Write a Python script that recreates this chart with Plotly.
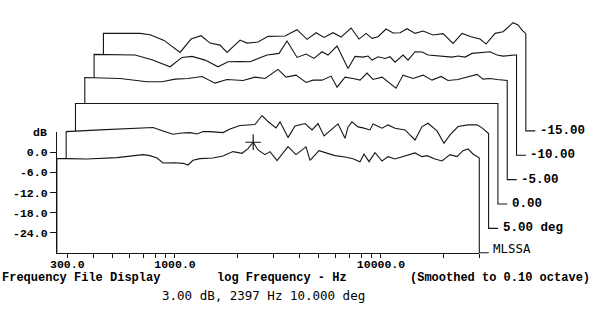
import numpy as np
import plotly.graph_objects as go

# Relative responses (dB) for each horizontal angle, normalized to on-axis
f_10 = [267, 299, 374, 523, 591, 699, 756, 818, 874, 1000, 1094, 1156, 1223, 1322, 1529,
        1710, 1912, 2115, 2262, 2397, 2529, 2735, 2892, 3127, 3537, 3867, 4324, 4522, 5000,
        5469, 5980, 6688, 7314, 7909, 8270, 8744, 9352, 10113, 10815, 11695, 12791, 13830,
        14622, 15812, 16721, 18285, 19775, 21627, 23385, 25007, 26443, 27966, 29242, 30000]
db_10 = [-1.9, -1.9, -2.0, -1.6, -1.3, -0.7, -1.0, -1.7, -3.2, -3.1, -3.3, -3.8, -2.4, -1.9,
         -1.7, -1.1, 0.2, -0.3, 1.1, 3.0, 0.7, -0.7, 0.2, -2.5, 1.7, -0.7, 1.6, -2.4, 0.5,
         -0.3, -1.0, -1.4, -1.9, -2.8, -0.5, -2.8, -0.1, -2.6, -1.3, -2.0, -1.3, -0.8, -0.2,
         -1.3, -1.0, -2.0, -2.6, -0.7, -1.3, 0.5, 1.0, -0.5, -1.4, -1.7]

f_5 = [267, 390, 533, 630, 705, 788, 881, 975, 1066, 1153, 1233, 1333, 1541, 1667, 1864,
       2204, 2384, 2549, 2787, 2915, 3187, 3446, 3854, 4169, 4457, 4767, 5271, 5574, 6028,
       6234, 6519, 6970, 7371, 7971, 8241, 9116, 9746, 10539, 11786, 13183, 14254, 15240,
       16852, 18226, 19491, 21313, 23836, 26359, 27870, 29473, 30000]
db_5 = [-1.1, -0.6, -0.3, -0.2, 0.1, -0.9, -1.9, -1.5, -1.4, -1.8, -1.1, -1.1, -1.4, -0.3,
        0.7, 1.0, 3.7, 1.9, 0.0, 1.8, -2.9, 0.6, 1.3, -0.6, 1.3, -2.4, -0.1, 1.2, -3.1, 0.3,
        1.8, 0.3, 0.0, -0.6, 1.2, -0.1, 0.9, -0.1, -0.6, -3.6, 0.4, 1.4, -0.9, -4.6, -2.1,
        0.4, 0.9, 0.9, 0.0, -1.5, -1.7]

f_0 = [267, 30000]
db_0 = [0.0, 0.0]

f_m5 = [267, 396, 458, 535, 633, 732, 847, 990, 1145, 1309, 1565, 1790, 2002, 2315, 2532,
        2831, 3166, 3423, 3786, 4187, 4477, 4896, 5354, 5790, 6261, 6696, 7404, 7916, 8658,
        9363, 10469, 11708, 12948, 14318, 15480, 17309, 19362, 21412, 22896, 24756, 26772,
        28629, 30000]
db_m5 = [0.5, 0.2, -0.3, -0.8, -0.8, 0.0, 0.2, 0.8, -1.2, -0.1, -0.4, 0.6, 0.2, 2.9, 0.6,
         1.2, -1.0, -0.3, -0.3, 0.9, -2.4, 0.6, 0.2, -0.3, 1.8, -0.1, 0.6, -0.8, -2.7, 1.2,
         0.2, 1.2, -0.3, 0.8, -0.4, -0.1, 0.7, 1.4, 0.0, 0.2, -0.1, -0.3, -0.4]

f_m10 = [267, 422, 510, 624, 713, 798, 923, 1067, 1193, 1365, 1526, 1845, 2110, 2307, 2581,
         2854, 3121, 3412, 3648, 4035, 4562, 4934, 5395, 5705, 5968, 6381, 6900, 7297, 7717,
         8437, 8923, 9649, 10433, 11158, 13049, 14592, 15603, 16871, 18246, 20639, 22317,
         24128, 25799, 29506, 30000]
db_m10 = [0.1, -0.1, -1.5, -3.6, -0.8, -0.5, -1.6, -3.6, -2.1, -2.0, -2.1, -0.1, 0.4, 4.1,
          -0.8, 0.2, -1.1, 0.9, -0.1, 2.6, -4.1, -0.5, -0.7, -0.4, -1.6, -0.6, -1.1, -0.6,
          -2.2, -0.1, -1.6, 0.9, 0.8, -0.1, -0.5, -0.7, -0.4, -0.7, 0.4, 0.8, 0.9, -0.1,
          -0.4, -0.1, -0.1]

f_m15 = [267, 402, 450, 526, 629, 711, 795, 880, 983, 1063, 1230, 1330, 1504, 1682, 2033,
         2325, 2600, 2876, 3145, 3477, 3803, 4252, 4650, 5029, 5378, 5752, 6290, 6801, 7354,
         7953, 8696, 9511, 10634, 11893, 13301, 14707, 16263, 17985, 19231, 21268, 23259,
         26002, 27497, 28755, 29735, 30000]
db_m15 = [-0.9, -0.9, -1.3, -3.0, -6.6, -2.6, -1.6, -3.8, -4.4, -6.6, -2.9, -3.8, -3.5, -1.8,
          -1.7, 0.2, -2.7, -0.7, -2.1, -0.7, -2.0, 0.7, -2.6, -0.9, -2.4, -1.9, 0.4, -0.8,
          -0.7, 0.5, -0.9, -0.2, -1.4, -1.0, -3.9, -0.9, -1.9, -2.6, -4.1, -0.9, -0.4, 2.3,
          1.6, 0.1, -0.9, -1.0]

curve_labels = ["-15.00", "-10.00", "-5.00", "0.00", "5.00 deg", "MLSSA"]

# cursor readout
cursor_f, cursor_db, cursor_deg = 2397, 3.0, 10.0

# tick labels
y_ticks = [0, -6, -12, -18, -24]
y_ticktext = ["0.0", "-6.0", "-12.0", "-18.0", "-24.0"]
x_ticks = [300, 400, 500, 600, 700, 800, 900, 1000, 2000, 3000, 4000, 5000, 6000, 7000,
           8000, 9000, 10000, 20000, 30000]
x_ticktext = ["300.0", "", "", "", "", "", "", "1000.0", "", "", "", "", "", "", "", "",
              "10000.0", "", ""]

# front frame and waterfall geometry
F_MIN, F_MAX = 267, 30000
DB_MIN, DB_MAX = -30, 6
STEP_DEC = 0.0452      # horizontal shift per trace (decades)
STEP_DB = 7.28         # vertical shift per trace (dB)
LEADER_DEC = 0.046     # label leader length (decades)

# full-canvas data window used to place the shifted traces
X0, X1 = 2.1505, 5.0631
Y0, Y1 = -52.45, 45.46

INK = "#161616"
MONO = "Liberation Mono"

fig = go.Figure()

curves = [(5, f_m15, db_m15), (4, f_m10, db_m10), (3, f_m5, db_m5),
          (2, f_0, db_0), (1, f_5, db_5), (0, f_10, db_10)]

label_pos = []
for (k, f, db), lab in zip(curves, curve_labels):
    lx = np.log10(np.array(f, dtype=float)) + k * STEP_DEC
    xs = 10 ** lx
    ys = np.array(db, dtype=float) + k * STEP_DB
    base = DB_MIN + k * STEP_DB
    lead = 10 ** (lx[-1] + LEADER_DEC)
    # white body hides the traces behind it
    fig.add_trace(go.Scatter(
        x=[xs[0], *xs, xs[-1]], y=[base, *ys, base],
        mode="lines", fill="toself", fillcolor="white",
        line=dict(width=0, color="white"), hoverinfo="skip", showlegend=False))
    fig.add_trace(go.Scatter(
        x=[xs[0], *xs, xs[-1], lead], y=[base, *ys, base, base],
        mode="lines", line=dict(color=INK, width=1.1),
        hoverinfo="skip", showlegend=False))
    label_pos.append((lab, np.log10(lead), base))

# cursor
fig.add_trace(go.Scatter(
    x=[cursor_f], y=[cursor_db], mode="markers",
    marker=dict(symbol="cross-thin", size=11, line=dict(color=INK, width=1.2)),
    hoverinfo="skip", showlegend=False))

# empty trace so the framed axes are laid out
fig.add_trace(go.Scatter(x=[], y=[], xaxis="x2", yaxis="y2", showlegend=False))

dx0 = (np.log10(F_MIN) - X0) / (X1 - X0)
dx1 = (np.log10(F_MAX) - X0) / (X1 - X0)
dy0 = (DB_MIN - Y0) / (Y1 - Y0)
dy1 = (DB_MAX - Y0) / (Y1 - Y0)

tickfont = dict(family=MONO, size=11.5, color="black", weight="bold")

fig.update_layout(
    width=600, height=328,
    margin=dict(l=0, r=0, t=0, b=0, autoexpand=False),
    paper_bgcolor="white", plot_bgcolor="rgba(0,0,0,0)",
    showlegend=False,
    xaxis=dict(type="log", range=[X0, X1], domain=[0, 1], visible=False, fixedrange=True,
               automargin=False),
    yaxis=dict(range=[Y0, Y1], domain=[0, 1], visible=False, fixedrange=True,
               automargin=False),
    xaxis2=dict(type="log", range=[np.log10(F_MIN), np.log10(F_MAX)], domain=[dx0, dx1],
                anchor="y2", showline=True, linecolor=INK, linewidth=1, showgrid=False,
                zeroline=False, ticks="outside", ticklen=4, tickcolor=INK, tickwidth=1,
                tickmode="array", tickvals=x_ticks, ticktext=x_ticktext, tickfont=tickfont,
                ticklabelstandoff=-4, fixedrange=True, automargin=False),
    yaxis2=dict(range=[DB_MIN, DB_MAX], domain=[dy0, dy1], anchor="x2", showline=True,
                linecolor=INK, linewidth=1, showgrid=False, zeroline=False,
                ticks="outside", ticklen=6, tickcolor=INK, tickwidth=1,
                tickmode="array", tickvals=y_ticks, ticktext=y_ticktext,
                tickfont=tickfont, fixedrange=True, automargin=False),
)

# angle labels at the end of each leader
for lab, lx, base in label_pos:
    is_prog = lab == "MLSSA"
    fig.add_annotation(
        x=lx + 0.012, y=base, xref="x", yref="y", text=lab, showarrow=False,
        xanchor="left", yanchor="middle", yshift=4 if is_prog else 0,
        font=dict(family="DejaVu Sans Mono" if is_prog else MONO, size=12.5, color="black",
                  weight="normal" if is_prog else "bold"))

# unit label on the level axis
fig.add_annotation(x=dx0, y=DB_MAX, xref="paper", yref="y2", text="dB", showarrow=False,
                   xanchor="right", yanchor="middle", xshift=-8,
                   font=dict(family=MONO, size=11.5, color="black", weight="bold"))

foot = dict(family=MONO, size=12, color="black", weight="bold")
foot_y = 1 - 278 / 328
fig.add_annotation(x=0, y=foot_y, xref="paper", yref="paper", xanchor="left",
                   yanchor="middle", text="Frequency File Display", showarrow=False, font=foot)
fig.add_annotation(x=215 / 600, y=foot_y, xref="paper", yref="paper", xanchor="left",
                   yanchor="middle", text="log Frequency - Hz", showarrow=False, font=foot)
fig.add_annotation(x=408 / 600, y=foot_y, xref="paper", yref="paper", xanchor="left",
                   yanchor="middle", text="(Smoothed to 0.10 octave)", showarrow=False,
                   font=foot)
fig.add_annotation(x=160 / 600, y=1 - 295 / 328, xref="paper", yref="paper", xanchor="left",
                   yanchor="middle", showarrow=False,
                   text=f"{cursor_db:.2f} dB, {cursor_f} Hz {cursor_deg:.3f} deg",
                   font=dict(family="DejaVu Sans Mono", size=12.5, color="black"))

fig.write_html("out.html")
